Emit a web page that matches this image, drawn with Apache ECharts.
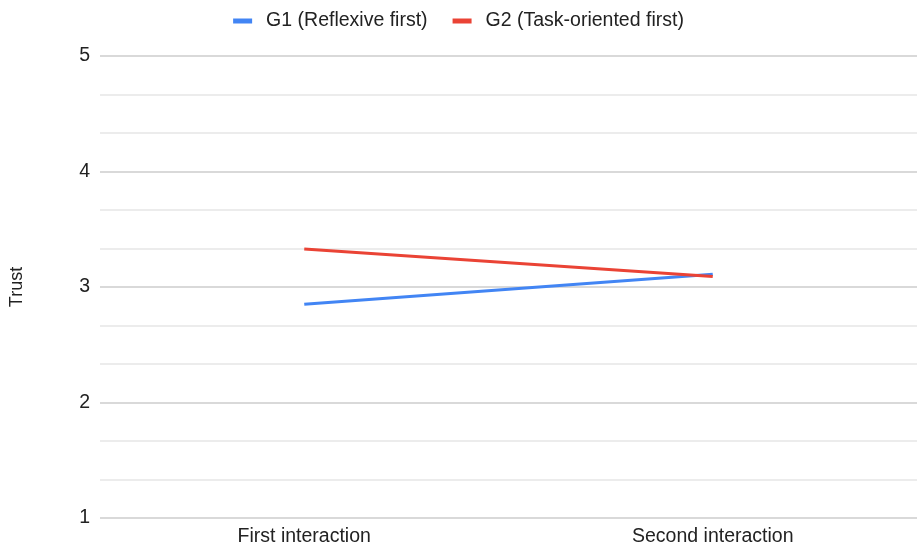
<!DOCTYPE html>
<html><head><meta charset="utf-8">
<script src="https://cdn.jsdelivr.net/npm/echarts@6/dist/echarts.min.js"></script>
<style>html,body{margin:0;padding:0;background:#fff}#c{width:917px;height:548px}</style>
</head><body><div id="c"></div>
<script>
const categories = ["First interaction", "Second interaction"];
const g1Name = "G1 (Reflexive first)";
const g2Name = "G2 (Task-oriented first)";
const g1Values = [2.85, 3.11];
const g2Values = [3.33, 3.09];
const yTicks = [1, 2, 3, 4, 5];

const chart = echarts.init(document.getElementById('c'), null, {renderer: 'canvas'});
const font = 'Liberation Sans, Arial, sans-serif';
chart.setOption({
  animation: false,
  textStyle: {fontFamily: font},
  legend: {
    top: 6, left: 'center', itemWidth: 19, itemHeight: 5, itemGap: 25,
    icon: 'rect',
    textStyle: {fontSize: 19.5, color: '#222', fontFamily: font, padding: [0, 0, 0, 9]},
    data: [g1Name, g2Name]
  },
  grid: {left: 93, right: 0, top: 56, bottom: 30, containLabel: false},
  xAxis: {
    type: 'category', data: categories, boundaryGap: true,
    axisLine: {show: false}, axisTick: {show: false},
    axisLabel: {fontSize: 19.5, color: '#222', margin: 9, fontFamily: font}
  },
  yAxis: {
    type: 'value', min: yTicks[0], max: yTicks[yTicks.length - 1], interval: 1,
    name: 'Trust', nameLocation: 'middle', nameGap: 74, nameRotate: 90,
    nameTextStyle: {fontSize: 18, color: '#222', fontFamily: font},
    axisLine: {show: false}, axisTick: {show: false},
    axisLabel: {fontSize: 19.5, color: '#222', margin: 10, fontFamily: font},
    splitLine: {lineStyle: {color: '#cccccc', width: 1.5}},
    minorTick: {show: false, splitNumber: 3},
    minorSplitLine: {show: true, lineStyle: {color: '#e6e6e6', width: 1.5}}
  },
  series: [
    {name: g1Name, type: 'line', data: g1Values, symbol: 'none', color: '#4285F4', lineStyle: {width: 3}},
    {name: g2Name, type: 'line', data: g2Values, symbol: 'none', color: '#EA4335', lineStyle: {width: 3}}
  ]
});
</script></body></html>
